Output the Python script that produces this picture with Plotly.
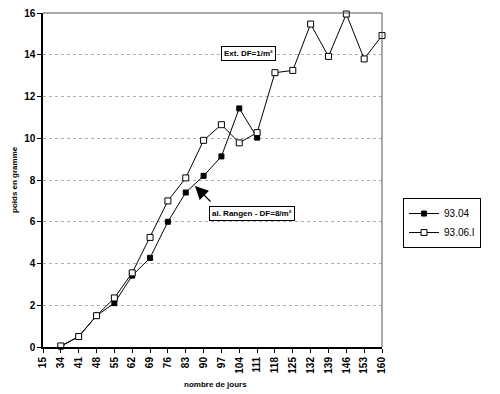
import plotly.graph_objects as go

days = ["15", "34", "41", "48", "55", "62", "69", "76", "83", "90", "97", "104",
        "111", "118", "125", "132", "139", "146", "153", "160"]

s1_name = "93.04"
s1_days = ["34", "41", "48", "55", "62", "69", "76", "83", "90", "97", "104", "111"]
s1_vals = [0.03, 0.5, 1.5, 2.1, 3.42, 4.27, 6.0, 7.4, 8.2, 9.13, 11.43, 10.03]

s2_name = "93.06.I"
s2_days = ["34", "41", "48", "55", "62", "69", "76", "83", "90", "97", "104", "111",
           "118", "125", "132", "139", "146", "153", "160"]
s2_vals = [0.05, 0.5, 1.5, 2.35, 3.55, 5.25, 7.0, 8.1, 9.9, 10.65, 9.78, 10.27,
           13.14, 13.25, 15.47, 13.92, 15.95, 13.8, 14.92]

y_ticks = [0, 2, 4, 6, 8, 10, 12, 14, 16]

FONT = "Liberation Sans, Arial, sans-serif"

fig = go.Figure()
fig.add_trace(go.Scatter(
    x=s1_days, y=s1_vals, name=s1_name, mode="lines+markers",
    line=dict(color="black", width=1),
    marker=dict(symbol="square", size=5, color="black", line=dict(color="black", width=1)),
    cliponaxis=False,
))
fig.add_trace(go.Scatter(
    x=s2_days, y=s2_vals, name=s2_name, mode="lines+markers",
    line=dict(color="black", width=1),
    marker=dict(symbol="square", size=6, color="white", line=dict(color="black", width=1)),
    cliponaxis=False,
))

# page body has an 8px default margin, so the figure is sized/offset to fit
fig.update_layout(
    width=492, height=386,
    margin=dict(l=35, r=118, t=5, b=47, autoexpand=False),
    paper_bgcolor="white", plot_bgcolor="white",
    font=dict(family=FONT, color="black", size=10),
    showlegend=True,
    legend=dict(
        x=1.062, y=0.446, xanchor="left", yanchor="top",
        bordercolor="black", borderwidth=1, bgcolor="white",
        font=dict(family=FONT, size=10, color="black"),
        itemwidth=30, tracegroupgap=6,
    ),
    xaxis=dict(
        type="category", categoryorder="array", categoryarray=days,
        tickmode="array", tickvals=days, ticktext=["<b>%s</b>" % d for d in days],
        range=[0, len(days) - 1], automargin=False, ticklabeloverflow="allow",
        tickangle=-90, ticks="outside", ticklen=4, tickcolor="black",
        showline=True, linecolor="black", linewidth=2,
        showgrid=False, zeroline=False,
        tickfont=dict(family=FONT, size=10, color="black"),
    ),
    yaxis=dict(
        range=[0, 16], tickvals=y_ticks, ticktext=["<b>%d</b>" % v for v in y_ticks],
        automargin=False, ticklabeloverflow="allow",
        ticks="outside", ticklen=4, tickcolor="black",
        showline=True, linecolor="black", linewidth=1.5,
        showgrid=True, gridcolor="#b0b0b0", griddash="dot", gridwidth=1,
        zeroline=False,
        tickfont=dict(family=FONT, size=10, color="black"),
    ),
    shapes=[
        dict(type="line", xref="paper", yref="paper", x0=0, x1=1, y0=1, y1=1,
             line=dict(color="#555555", width=1)),
        dict(type="line", xref="paper", yref="paper", x0=1, x1=1, y0=0, y1=1,
             line=dict(color="#555555", width=1)),
    ],
    annotations=[
        dict(xref="paper", yref="paper", x=(215 - 43) / 339, y=-(385 - 347) / 334,
             yanchor="middle",
             text="<b>nombre de jours</b>", showarrow=False,
             font=dict(family=FONT, size=8, color="black")),
        dict(xref="paper", yref="paper", x=(14 - 43) / 339, y=0.5, textangle=-90,
             xanchor="center", yanchor="middle",
             text="<b>poids en gramme</b>", showarrow=False,
             font=dict(family=FONT, size=8, color="black")),
        dict(xref="paper", yref="paper", x=0.605, y=0.901, text="<b>Ext. DF=1/m²</b>",
             showarrow=False, font=dict(family=FONT, size=8, color="black"),
             bordercolor="black", borderwidth=1, borderpad=2, bgcolor="white"),
        dict(xref="paper", yref="paper", x=0.617, y=0.401, text="<b>al. Rangen - DF=8/m²</b>",
             showarrow=False, font=dict(family=FONT, size=8, color="black"),
             bordercolor="black", borderwidth=1, borderpad=2, bgcolor="white"),
        dict(xref="paper", yref="paper", x=(195 - 43) / 339, y=(347 - 186) / 334,
             ax=17, ay=17, text="", showarrow=True,
             arrowhead=2, arrowsize=2.2, arrowwidth=1.2, arrowcolor="black"),
    ],
)

fig.write_html("out.html")
